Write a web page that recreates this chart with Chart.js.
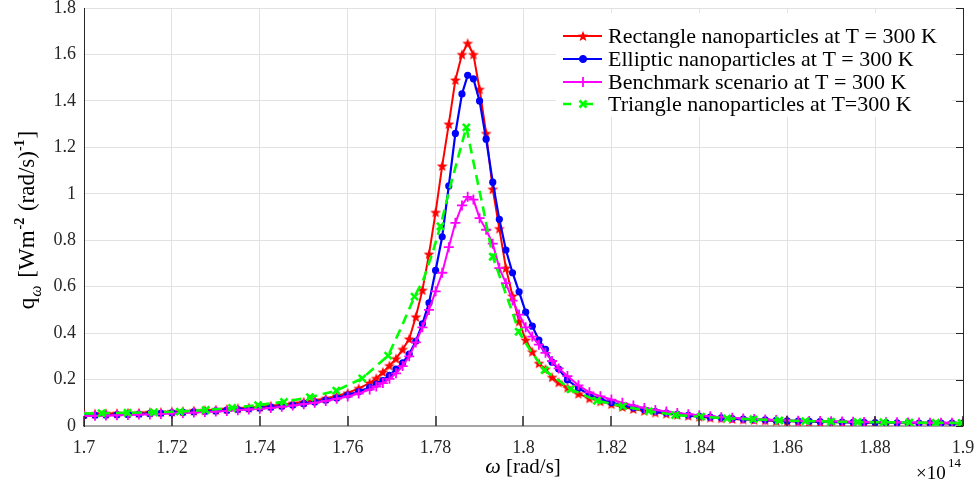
<!DOCTYPE html>
<html>
<head>
<meta charset="utf-8">
<script src="https://cdn.jsdelivr.net/npm/chart.js@4.4.1/dist/chart.umd.min.js"></script>
<style>
    html, body { margin: 0; padding: 0; background: #fff; }
    #wrap { width: 977px; height: 486px; }
</style>
</head>
<body>
<div id="wrap"><canvas id="spectrumChart" width="977" height="486"></canvas></div>
<script>
// frequency grid in units of 1e14 rad/s (shared by rectangle, elliptic and benchmark curves)
const omega = [
    1.700, 1.7025, 1.705, 1.7075, 1.710, 1.7125, 1.715, 1.7175, 1.720, 1.7225,
    1.725, 1.7275, 1.730, 1.7325, 1.735, 1.7375, 1.740, 1.7425, 1.745, 1.7475,
    1.750, 1.7525, 1.755, 1.7575, 1.760, 1.7625, 1.765,
    1.7665, 1.768, 1.7695, 1.771, 1.7725, 1.774, 1.7755, 1.777, 1.7785, 1.780,
    1.7815, 1.783, 1.7845, 1.786, 1.7873, 1.7886, 1.790, 1.7915, 1.793, 1.7945,
    1.796, 1.7975, 1.799, 1.8005, 1.802, 1.8035, 1.805, 1.8065, 1.808,
    1.810, 1.8125, 1.815, 1.8175, 1.820, 1.8225, 1.825, 1.8275, 1.830, 1.8325,
    1.835, 1.8375, 1.840, 1.8425, 1.845, 1.8475, 1.850, 1.8525, 1.855, 1.8575,
    1.860, 1.8625, 1.865, 1.8675, 1.870, 1.8725, 1.875, 1.8775, 1.880, 1.8825,
    1.885, 1.8875, 1.890, 1.8925, 1.895, 1.8975, 1.900,
];
const rectQ = [
    0.052, 0.053, 0.054, 0.055, 0.056, 0.057, 0.059, 0.060, 0.062, 0.064,
    0.066, 0.068, 0.070, 0.073, 0.076, 0.079, 0.083, 0.087, 0.092, 0.098,
    0.104, 0.111, 0.119, 0.129, 0.142, 0.162, 0.185,
    0.205, 0.232, 0.260, 0.290, 0.330, 0.375, 0.470, 0.585, 0.740, 0.920,
    1.120, 1.300, 1.490, 1.600, 1.648, 1.600, 1.450, 1.260, 1.020, 0.850,
    0.680, 0.560, 0.450, 0.370, 0.320, 0.270, 0.245, 0.210, 0.188,
    0.165, 0.139, 0.119, 0.106, 0.094, 0.082, 0.073, 0.065, 0.058, 0.053,
    0.048, 0.044, 0.040, 0.036, 0.033, 0.030, 0.028, 0.026, 0.024, 0.022,
    0.020, 0.019, 0.018, 0.017, 0.016, 0.016, 0.015, 0.014, 0.014, 0.013,
    0.013, 0.012, 0.012, 0.011, 0.011, 0.011, 0.010,
];
const ellipQ = [
    0.045, 0.046, 0.047, 0.048, 0.050, 0.051, 0.053, 0.055, 0.057, 0.059,
    0.061, 0.063, 0.065, 0.068, 0.071, 0.074, 0.077, 0.081, 0.085, 0.090,
    0.096, 0.103, 0.111, 0.121, 0.133, 0.148, 0.166,
    0.180, 0.196, 0.218, 0.245, 0.272, 0.310, 0.365, 0.440, 0.530, 0.670,
    0.815, 1.034, 1.260, 1.430, 1.510, 1.495, 1.400, 1.235, 1.050, 0.890,
    0.758, 0.660, 0.578, 0.490, 0.430, 0.370, 0.330, 0.275, 0.245,
    0.198, 0.163, 0.135, 0.116, 0.101, 0.089, 0.079, 0.070, 0.062, 0.056,
    0.050, 0.046, 0.042, 0.038, 0.035, 0.032, 0.030, 0.028, 0.026, 0.024,
    0.022, 0.021, 0.020, 0.019, 0.018, 0.017, 0.016, 0.016, 0.015, 0.015,
    0.014, 0.014, 0.013, 0.013, 0.013, 0.012, 0.012,
];
const benchQ = [
    0.043, 0.044, 0.045, 0.046, 0.047, 0.049, 0.050, 0.052, 0.054, 0.056,
    0.058, 0.060, 0.062, 0.065, 0.068, 0.071, 0.074, 0.078, 0.083, 0.088,
    0.094, 0.100, 0.108, 0.117, 0.127, 0.140, 0.157,
    0.170, 0.185, 0.203, 0.227, 0.258, 0.300, 0.360, 0.425, 0.500, 0.580,
    0.660, 0.770, 0.875, 0.950, 0.987, 0.975, 0.895, 0.845, 0.785, 0.680,
    0.615, 0.540, 0.480, 0.425, 0.385, 0.350, 0.315, 0.280, 0.248,
    0.215, 0.175, 0.145, 0.128, 0.114, 0.100, 0.088, 0.078, 0.069, 0.062,
    0.056, 0.051, 0.046, 0.042, 0.038, 0.035, 0.032, 0.030, 0.028, 0.026,
    0.024, 0.023, 0.022, 0.021, 0.020, 0.019, 0.018, 0.017, 0.017, 0.016,
    0.016, 0.015, 0.015, 0.014, 0.014, 0.014, 0.013,
];
// triangle curve: its own grid, the x markers only sit on some of the points
const triOmega = [
    1.700, 1.7040, 1.7099, 1.7159, 1.7218, 1.7277, 1.7337, 1.7396, 1.7455, 1.7514,
    1.7574, 1.7633, 1.7692, 1.7722, 1.7752, 1.7772, 1.7795, 1.7811, 1.7833, 1.7856,
    1.7870, 1.7893, 1.7909, 1.7930, 1.7954, 1.7977, 1.7989, 1.8015, 1.8048, 1.8107,
    1.8167, 1.8226, 1.8285, 1.8345, 1.8404, 1.8463, 1.8523, 1.8582, 1.8641, 1.8700,
    1.8760, 1.8819, 1.8878, 1.8938, 1.8997,
];
const triQ = [
    0.054, 0.055, 0.057, 0.059, 0.062, 0.069, 0.078, 0.090, 0.104, 0.124,
    0.152, 0.205, 0.303, 0.425, 0.557, 0.629, 0.758, 0.860, 1.030, 1.190,
    1.286, 1.074, 0.930, 0.729, 0.600, 0.478, 0.406, 0.327, 0.241, 0.158,
    0.109, 0.085, 0.064, 0.047, 0.040, 0.033, 0.029, 0.024, 0.021, 0.019,
    0.017, 0.016, 0.015, 0.014, 0.013,
];
const triMark = [
    0, 1, 1, 1, 1, 1, 1, 1, 1, 1,
    1, 1, 1, 0, 1, 0, 0, 1, 0, 0,
    1, 0, 0, 1, 0, 0, 1, 0, 1, 1,
    1, 1, 1, 1, 1, 1, 1, 1, 1, 1,
    1, 1, 1, 1, 1,
];
const seriesNames = [
    "Rectangle nanoparticles at T = 300 K",
    "Elliptic nanoparticles at T = 300 K",
    "Benchmark scenario at T = 300 K",
    "Triangle nanoparticles at T=300 K",
];
const xMin = 1.7, xMax = 1.9, xStep = 0.02;
const yMin = 0, yMax = 1.8, yStep = 0.2;

const FONT = "'Liberation Serif', 'DejaVu Serif', serif";
const AXIS_DARK = "#262626";

// filled five point star, used as the marker of the red curve
function makeStar(size, color) {
    const c = document.createElement("canvas");
    c.width = size;
    c.height = size;
    const g = c.getContext("2d");
    const cx = size / 2, cy = size / 2 + 0.5;
    const R = size / 2 - 0.3, r = R * 0.42;
    g.beginPath();
    for (let i = 0; i < 10; i++) {
        const a = -Math.PI / 2 + (i * Math.PI) / 5;
        const rr = i % 2 ? r : R;
        g.lineTo(cx + rr * Math.cos(a), cy + rr * Math.sin(a));
    }
    g.closePath();
    g.fillStyle = color;
    g.fill();
    return c;
}
const redStar = makeStar(12, "#ff0000");

const toPoints = (xs, ys) => xs.map((w, i) => ({ x: w, y: ys[i] }));

const datasets = [
    {
        label: seriesNames[0],
        data: toPoints(omega, rectQ),
        borderColor: "#ff0000",
        backgroundColor: "#ff0000",
        borderWidth: 2,
        pointStyle: redStar,
        pointRadius: 5,
        order: 4,
    },
    {
        label: seriesNames[1],
        data: toPoints(omega, ellipQ),
        borderColor: "#0000ff",
        backgroundColor: "#0000ff",
        borderWidth: 2.2,
        pointStyle: "circle",
        pointRadius: 3.6,
        pointBorderWidth: 0,
        order: 3,
    },
    {
        label: seriesNames[2],
        data: toPoints(omega, benchQ),
        borderColor: "#ff00ff",
        backgroundColor: "#ff00ff",
        borderWidth: 2,
        pointStyle: "cross",
        pointRadius: 5,
        pointBorderWidth: 1.8,
        order: 2,
    },
    {
        label: seriesNames[3],
        data: toPoints(triOmega, triQ),
        borderColor: "#00ff00",
        backgroundColor: "#00ff00",
        borderWidth: 2.6,
        borderDash: [10, 6],
        pointStyle: "crossRot",
        pointRadius: (c) => (triMark[c.dataIndex] ? 5 : 0),
        pointBorderWidth: 2.6,
        order: 1,
    },
];

// right axis, inward ticks, legend and axis titles (MATLAB look)
const decorations = {
    id: "decorations",
    afterDraw(chart) {
        const {
            ctx,
            chartArea: { left, top, right, bottom },
            scales: { x, y },
        } = chart;
        ctx.save();

        // legend box
        const lx = 556, ly = 13;
        ctx.fillStyle = "#fff";
        ctx.fillRect(lx, ly, 396, 104);
        const rows = [36, 59, 82, 104];
        datasets.forEach((ds, i) => {
            const ry = rows[i];
            ctx.strokeStyle = ds.borderColor;
            ctx.lineWidth = ds.borderWidth;
            ctx.setLineDash(ds.borderDash ? [8, 14] : []);
            ctx.beginPath();
            ctx.moveTo(563, ry);
            ctx.lineTo(602, ry);
            ctx.stroke();
            ctx.setLineDash([]);
            ctx.fillStyle = ds.backgroundColor;
            ctx.lineWidth = ds.pointBorderWidth || 1;
            Chart.helpers.drawPoint(
                ctx,
                {
                    pointStyle: ds.pointStyle,
                    radius: typeof ds.pointRadius === "number" ? ds.pointRadius : 5,
                    rotation: 0,
                    borderWidth: ds.pointBorderWidth || 1,
                },
                583,
                ry
            );
            ctx.fillStyle = "#000";
            ctx.font = "22px " + FONT;
            ctx.textBaseline = "middle";
            ctx.textAlign = "left";
            ctx.fillText(ds.label, 608, ry + 1);
        });

        // right axis with inward ticks
        ctx.strokeStyle = AXIS_DARK;
        ctx.lineWidth = 1;
        ctx.beginPath();
        ctx.moveTo(right + 0.5, top);
        ctx.lineTo(right + 0.5, bottom);
        ctx.stroke();
        y.ticks.forEach((t) => {
            const py = Math.round(y.getPixelForValue(t.value)) + 0.5;
            ctx.beginPath();
            ctx.moveTo(right, py);
            ctx.lineTo(right - 7, py);
            ctx.stroke();
        });
        // bottom ticks
        ctx.lineWidth = 1.5;
        x.ticks.forEach((t) => {
            const px = Math.round(x.getPixelForValue(t.value));
            ctx.beginPath();
            ctx.moveTo(px, bottom);
            ctx.lineTo(px, bottom - 10);
            ctx.stroke();
        });

        // x title: omega [rad/s]
        ctx.fillStyle = "#000";
        ctx.textBaseline = "alphabetic";
        ctx.textAlign = "left";
        ctx.font = "italic 22px " + FONT;
        const wOm = ctx.measureText("\u03c9").width;
        ctx.font = "21px " + FONT;
        const wRest = ctx.measureText(" [rad/s]").width;
        let sx = 523 - (wOm + wRest) / 2;
        ctx.font = "italic 22px " + FONT;
        ctx.fillText("\u03c9", sx, 473);
        ctx.font = "21px " + FONT;
        ctx.fillText(" [rad/s]", sx + wOm, 473);

        // exponent label
        ctx.font = "19px " + FONT;
        ctx.fillText("\u00d710", 916, 479);
        ctx.font = "13px " + FONT;
        ctx.fillText("14", 948, 467);

        // y title: q_omega [Wm^-2 (rad/s)^-1]
        const parts = [
            { t: "q", f: "23px " + FONT, dy: 0, gap: 1 },
            { t: "\u03c9", f: "italic 16px " + FONT, dy: 7, gap: 2 },
            { t: " [Wm", f: "23px " + FONT, dy: 0, gap: 1 },
            { t: "-2", f: "bold 14px " + FONT, dy: -10, gap: 1 },
            { t: " (rad/s)", f: "23px " + FONT, dy: 0, gap: 0 },
            { t: "-1", f: "bold 14px " + FONT, dy: -10, gap: 1 },
            { t: "]", f: "23px " + FONT, dy: 0, gap: 0 },
        ];
        let total = 0;
        parts.forEach((p) => {
            ctx.font = p.f;
            p.w = ctx.measureText(p.t).width + p.gap;
            total += p.w;
        });
        ctx.translate(34, 220);
        ctx.rotate(-Math.PI / 2);
        let px = -total / 2;
        parts.forEach((p) => {
            ctx.font = p.f;
            ctx.fillText(p.t, px, p.dy);
            px += p.w;
        });
        ctx.restore();
    },
};

const config = {
    type: "line",
    data: { datasets: datasets },
    options: {
        responsive: false,
        animation: false,
        events: [],
        layout: { padding: { top: 8, right: 14, left: 0, bottom: 0 } },
        plugins: {
            legend: { display: false },
            tooltip: { enabled: false },
        },
        scales: {
            x: {
                type: "linear",
                min: xMin,
                max: xMax,
                afterFit(scale) {
                    scale.height = 60;
                    scale.paddingLeft = 0;
                    scale.paddingRight = 0;
                },
                ticks: {
                    stepSize: xStep,
                    autoSkip: false,
                    maxRotation: 0,
                    padding: 11,
                    color: AXIS_DARK,
                    font: { family: FONT, size: 18 },
                    callback: (v) => String(Number(v.toFixed(2))),
                },
                grid: { color: "#e2e2e2", drawTicks: false },
                border: { color: "#a6a6a6", width: 2 },
            },
            y: {
                min: yMin,
                max: yMax,
                afterFit(scale) {
                    scale.width = 84;
                    scale.paddingTop = 0;
                    scale.paddingBottom = 0;
                },
                ticks: {
                    stepSize: yStep,
                    padding: 8,
                    color: AXIS_DARK,
                    font: { family: FONT, size: 18 },
                    callback: (v) => String(Number(v.toFixed(1))),
                },
                grid: { color: "#e2e2e2", drawTicks: false },
                border: { color: AXIS_DARK, width: 1 },
            },
        },
    },
    plugins: [decorations],
};

var ctx = document.getElementById("spectrumChart").getContext("2d");
var spectrumChart = new Chart(ctx, config);
</script>
</body>
</html>
